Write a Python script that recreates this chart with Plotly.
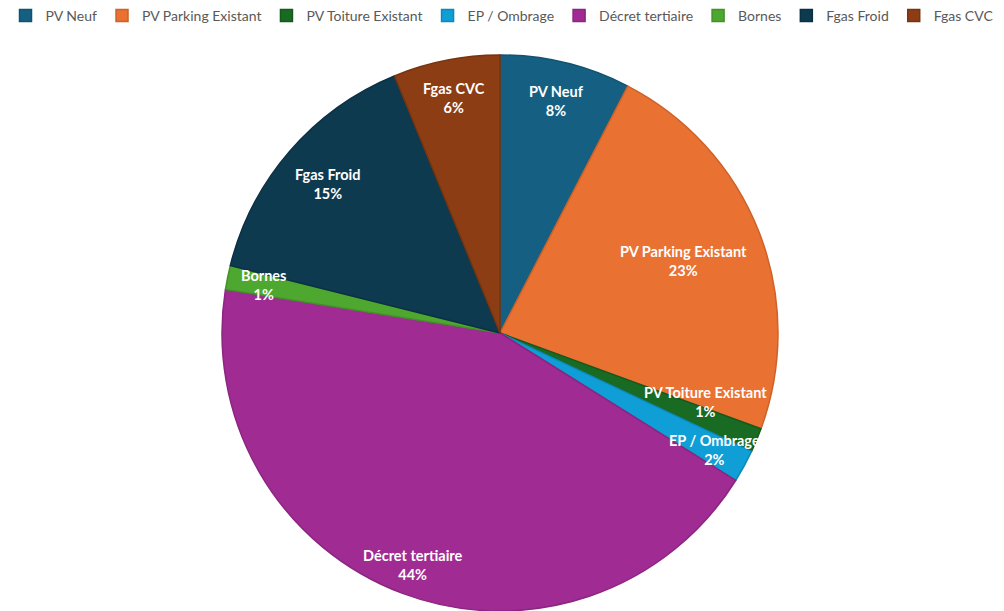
import math
import plotly.graph_objects as go

# ---- data ----
categories = ["PV Neuf", "PV Parking Existant", "PV Toiture Existant", "EP / Ombrage",
              "Décret tertiaire", "Bornes", "Fgas Froid", "Fgas CVC"]
shares = [7.6, 23.0, 1.4, 1.9, 43.6, 1.4, 14.9, 6.2]

# ---- style ----
colors = ["#156082", "#E97132", "#196B24", "#0F9ED5",
          "#A02B93", "#4EA72E", "#0E3A50", "#8C3D14"]
edge_colors = ["#12536F", "#CC6229", "#145A1E", "#0D89B9",
               "#8B2580", "#43912A", "#0B3043", "#773410"]
label_radius = [0.86, 0.71, 0.78, 0.88, 0.89, 0.87, 0.82, 0.86]
label_angle_shift = [0, 0, -4, 0, 0, 0, 0, 0]  # degrees

W, H = 1004, 611
top_px = 55
R = (H - top_px) / 2
cx_px = 500
dom_x = [0, 2 * cx_px / W]
dom_y = [0, (H - top_px) / H]

fig = go.Figure(go.Pie(
    labels=categories,
    values=shares,
    sort=False,
    direction="clockwise",
    rotation=0,
    marker=dict(colors=colors, line=dict(color=edge_colors, width=1.5)),
    textinfo="none",
    hoverinfo="label+percent",
    domain=dict(x=dom_x, y=dom_y),
))

# data labels at mid-angle of each slice
total = sum(shares)
cum = 0.0
cx = (dom_x[0] + dom_x[1]) / 2
cy = (dom_y[0] + dom_y[1]) / 2
for lab, v, f, da in zip(categories, shares, label_radius, label_angle_shift):
    mid = (cum + v / 2) / total * 2 * math.pi + math.radians(da)
    cum += v
    x = cx + f * R * math.sin(mid) / W
    y = cy + f * R * math.cos(mid) / H
    pct = round(v / total * 100)
    fig.add_annotation(
        x=x, y=y, xref="paper", yref="paper", showarrow=False,
        xanchor="center", yanchor="middle",
        text=f"<b>{lab}</b><br><b>{pct}%</b>",
        font=dict(family="Lato", size=14.5, color="#FFFFFF"),
        align="center",
    )

fig.update_layout(
    width=W, height=H,
    margin=dict(l=0, r=0, t=0, b=0),
    paper_bgcolor="white",
    plot_bgcolor="white",
    showlegend=True,
    legend=dict(
        orientation="h", x=0.5, xanchor="center", y=1.0, yanchor="top",
        font=dict(family="Lato", size=14, color="#595959"),
        traceorder="normal",
    ),
)

fig.write_html("out.html")
